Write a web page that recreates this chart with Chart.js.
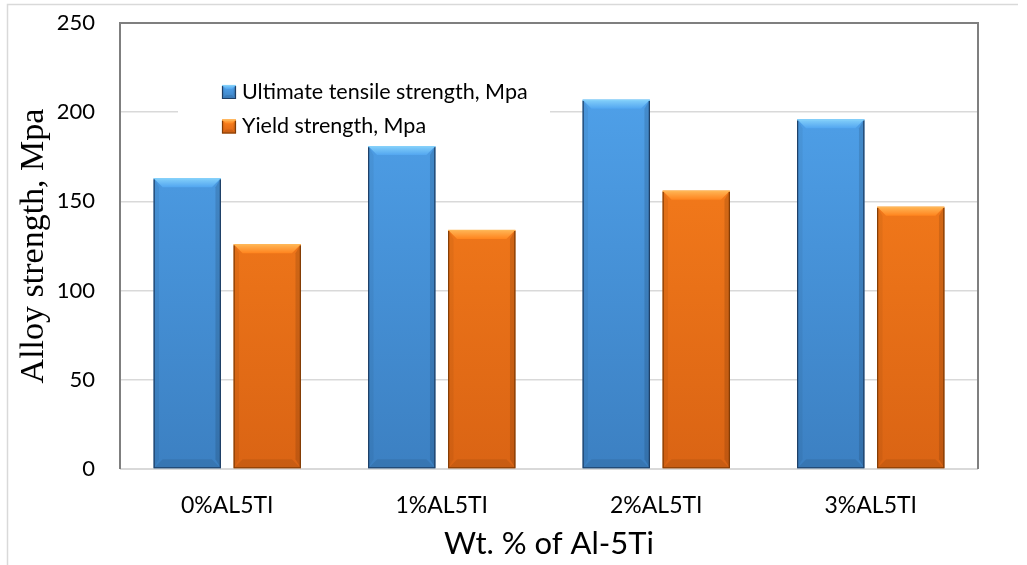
<!DOCTYPE html>
<html>
<head>
<meta charset="utf-8">
<script src="https://cdn.jsdelivr.net/npm/chart.js@4.4.1/dist/chart.umd.min.js"></script>
<style>
  html, body { margin: 0; padding: 0; background: #ffffff; }
  #wrap { width: 1027px; height: 565px; position: relative; }
</style>
</head>
<body>
<div id="wrap"><canvas id="chart" width="1027" height="565"></canvas></div>
<script>
// Tensile test results of the alloy for each Al-5Ti addition
const categories = ['0%AL5TI', '1%AL5TI', '2%AL5TI', '3%AL5TI'];
const seriesNames = ['Ultimate tensile strength, Mpa', 'Yield strength, Mpa'];
const ultimateTensile = [163, 181, 207, 196];
const yieldStrength = [126, 134, 156, 147];
const yTickValues = [0, 50, 100, 150, 200, 250];

const axisTitleX = 'Wt. % of Al-5Ti';
const axisTitleY = 'Alloy strength, Mpa';

// Colour sets for the bevelled bars
const palette = [
  { top: 'rgb(82,166,240)', bottom: 'rgb(60,128,194)', light: 'rgb(132,208,250)', line: 'rgb(30,62,100)' },
  { top: 'rgb(255,132,30)', bottom: 'rgb(218,100,20)', light: 'rgb(255,182,86)', line: 'rgb(130,60,5)' }
];

function areaGradient(pal) {
  return (ctx) => {
    const area = ctx.chart.chartArea;
    if (!area) return pal.top;
    const g = ctx.chart.ctx.createLinearGradient(0, area.top, 0, area.bottom);
    g.addColorStop(0, pal.top);
    g.addColorStop(1, pal.bottom);
    return g;
  };
}

// Light frame around the whole figure (top and left edges)
const framePlugin = {
  id: 'frame',
  beforeDraw(chart) {
    const c = chart.ctx;
    c.save();
    c.strokeStyle = '#d9d9d9';
    c.lineWidth = 1.5;
    c.beginPath();
    c.moveTo(7.5, 565);
    c.lineTo(7.5, 4.5);
    c.lineTo(1018, 4.5);
    c.stroke();
    c.restore();
  }
};

// Plot-area border: dark on left, top and right, light along the base
const plotBorderPlugin = {
  id: 'plotBorder',
  beforeDatasetsDraw(chart) {
    const { left, right, top, bottom } = chart.chartArea;
    const c = chart.ctx;
    c.save();
    c.strokeStyle = '#d9d9d9';
    c.lineWidth = 2;
    c.beginPath();
    c.moveTo(left, bottom);
    c.lineTo(right, bottom);
    c.stroke();
    c.strokeStyle = '#7f7f7f';
    c.lineWidth = 2;
    c.beginPath();
    c.moveTo(left, bottom);
    c.lineTo(left, top);
    c.lineTo(right, top);
    c.lineTo(right, bottom);
    c.stroke();
    c.restore();
  }
};

function drawBevel(c, left, top, right, bottom, pal, b) {
  // top facet
  const tg = c.createLinearGradient(0, top, 0, top + b);
  tg.addColorStop(0, pal.light);
  tg.addColorStop(1, pal.top);
  c.fillStyle = tg;
  c.beginPath();
  c.moveTo(left, top); c.lineTo(right, top);
  c.lineTo(right - b, top + b); c.lineTo(left + b, top + b);
  c.closePath(); c.fill();
  // left facet
  c.fillStyle = 'rgba(0,0,0,0.05)';
  c.beginPath();
  c.moveTo(left, top); c.lineTo(left + b * 0.6, top + b);
  c.lineTo(left + b * 0.6, bottom - b); c.lineTo(left, bottom);
  c.closePath(); c.fill();
  // right facet
  c.fillStyle = 'rgba(0,0,0,0.12)';
  c.beginPath();
  c.moveTo(right, top); c.lineTo(right - b * 0.6, top + b);
  c.lineTo(right - b * 0.6, bottom - b); c.lineTo(right, bottom);
  c.closePath(); c.fill();
  // bottom facet
  c.fillStyle = 'rgba(0,0,0,0.08)';
  c.beginPath();
  c.moveTo(left, bottom); c.lineTo(right, bottom);
  c.lineTo(right - b, bottom - b); c.lineTo(left + b, bottom - b);
  c.closePath(); c.fill();
  // outline
  c.strokeStyle = pal.line;
  c.lineWidth = 1.2;
  c.beginPath();
  c.moveTo(left + 0.5, top + 1);
  c.lineTo(left + 0.5, bottom - 0.5);
  c.lineTo(right - 0.5, bottom - 0.5);
  c.lineTo(right - 0.5, top + 1);
  c.stroke();
  c.strokeStyle = pal.light;
  c.beginPath();
  c.moveTo(left, top + 0.5);
  c.lineTo(right, top + 0.5);
  c.stroke();
}

// Bevel shading drawn over each bar, using the bar geometry from the chart
const bevelPlugin = {
  id: 'bevel',
  afterDatasetsDraw(chart) {
    const c = chart.ctx;
    c.save();
    chart.data.datasets.forEach((ds, di) => {
      const meta = chart.getDatasetMeta(di);
      const pal = palette[di];
      meta.data.forEach((bar) => {
        const p = bar.getProps(['x', 'y', 'base', 'width'], true);
        const left = p.x - p.width / 2, right = p.x + p.width / 2;
        drawBevel(c, left, p.y, right, p.base, pal, 9);
      });
    });
    c.restore();
  }
};

// Legend placed inside the plot area on a white panel
const innerLegendPlugin = {
  id: 'innerLegend',
  afterDatasetsDraw(chart) {
    const c = chart.ctx;
    c.save();
    c.fillStyle = '#ffffff';
    c.fillRect(178, 74, 372, 72);
    c.font = '21.5px Lato, "Open Sans", sans-serif';
    c.textBaseline = 'middle';
    c.textAlign = 'left';
    chart.data.datasets.forEach((ds, i) => {
      const pal = palette[i];
      const mx = 222, my = 85 + i * 34.5, s = 14;
      const g = c.createLinearGradient(0, my, 0, my + s);
      g.addColorStop(0, pal.top);
      g.addColorStop(1, pal.bottom);
      c.fillStyle = g;
      c.fillRect(mx, my, s, s);
      drawBevel(c, mx, my, mx + s, my + s, pal, 4);
      c.fillStyle = '#000000';
      c.fillText(ds.label, 242, my + s / 2);
    });
    c.restore();
  }
};

const chart = new Chart(document.getElementById('chart'), {
  type: 'bar',
  data: {
    labels: categories,
    datasets: [
      {
        label: seriesNames[0],
        data: ultimateTensile,
        backgroundColor: areaGradient(palette[0]),
        borderWidth: 0,
        categoryPercentage: 0.746,
        barPercentage: 0.84
      },
      {
        label: seriesNames[1],
        data: yieldStrength,
        backgroundColor: areaGradient(palette[1]),
        borderWidth: 0,
        categoryPercentage: 0.746,
        barPercentage: 0.84
      }
    ]
  },
  options: {
    responsive: false,
    animation: false,
    devicePixelRatio: 1,
    layout: { padding: { top: 23, right: 49, left: 0, bottom: 0 } },
    plugins: {
      legend: { display: false },
      tooltip: { enabled: false }
    },
    scales: {
      x: {
        grid: { display: false, drawTicks: false },
        border: { display: false },
        ticks: {
          color: '#000000',
          font: { family: 'Lato, "Open Sans", sans-serif', size: 23 },
          padding: 23,
          maxRotation: 0
        },
        title: {
          display: true,
          text: axisTitleX,
          color: '#000000',
          font: { family: 'Lato, "Open Sans", sans-serif', size: 31 },
          padding: { top: 0, bottom: 2 }
        },
        afterFit(scale) {
          scale.height = 96;
          scale.paddingLeft = 0;
          scale.paddingRight = 0;
        }
      },
      y: {
        min: 0,
        max: 250,
        grid: { color: '#d9d9d9', lineWidth: 1.5, drawTicks: false },
        border: { display: false },
        afterBuildTicks(scale) { scale.ticks = yTickValues.map(v => ({ value: v })); },
        ticks: {
          color: '#000000',
          font: { family: 'Lato, "Open Sans", sans-serif', size: 22 },
          padding: 25
        },
        title: {
          display: true,
          text: axisTitleY,
          color: '#000000',
          font: { family: '"Liberation Serif", "Times New Roman", serif', size: 34 },
          padding: { top: 14, bottom: 0 }
        },
        afterFit(scale) {
          scale.width = 120;
          scale.paddingTop = 0;
          scale.paddingBottom = 0;
        }
      }
    }
  },
  plugins: [framePlugin, plotBorderPlugin, bevelPlugin, innerLegendPlugin]
});
</script>
</body>
</html>
